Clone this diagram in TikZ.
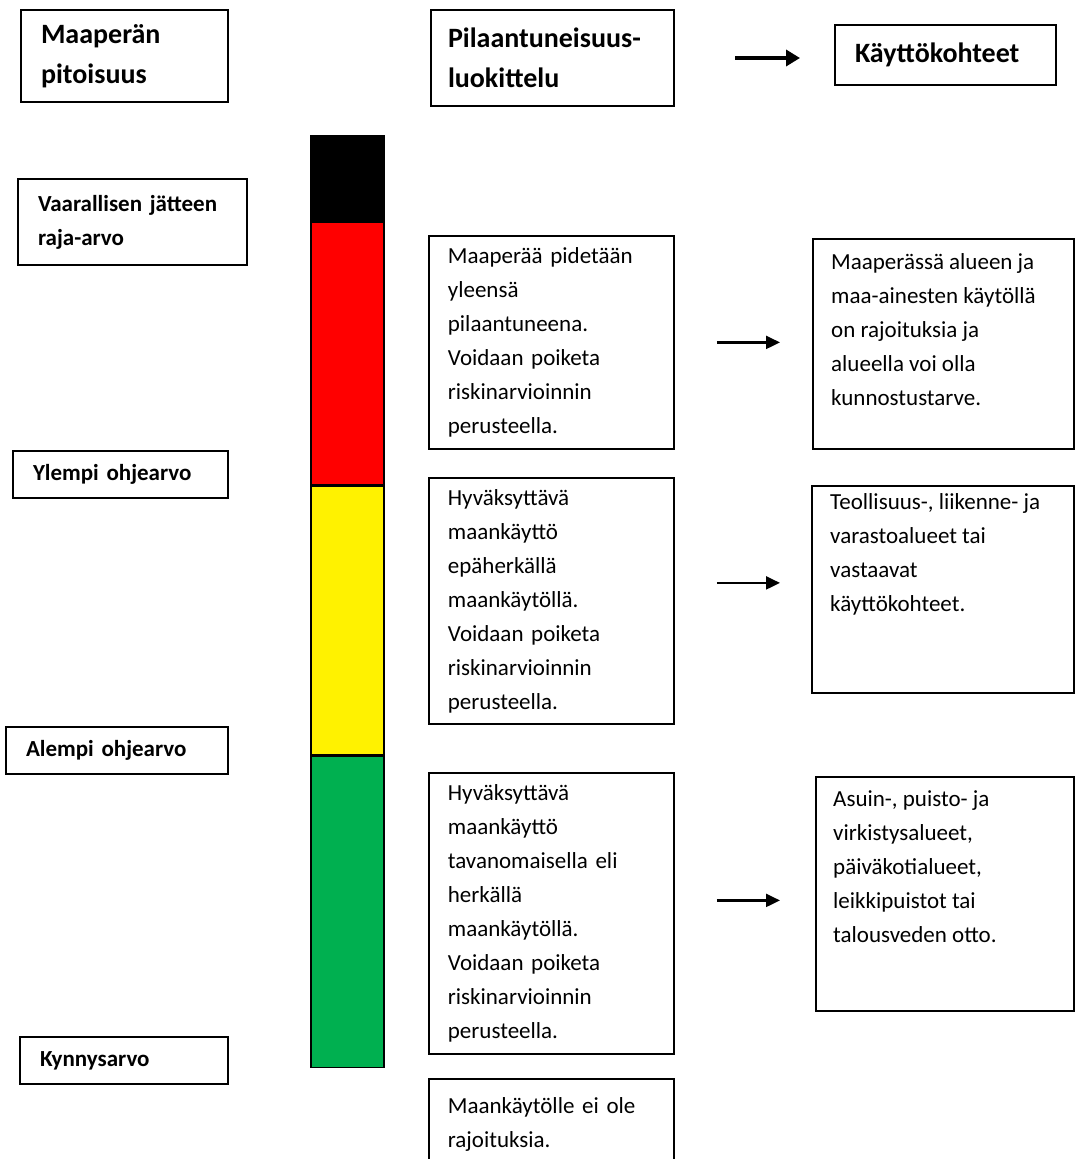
\documentclass[tikz,border=0pt]{standalone}
\usepackage{fontspec}
\setmainfont{Carlito}
\usetikzlibrary{positioning,arrows.meta}
\definecolor{ohgreen}{RGB}{0,176,80}

\begin{document}
\begin{tikzpicture}[x=1pt,y=-1pt,
headbox/.style={rectangle, draw, line width=2pt, align=left, inner xsep=20pt, inner ysep=0pt, font=\fontsize{28}{40}\selectfont\bfseries, anchor=north west},
levelbox/.style={rectangle, draw, line width=2pt, align=left, inner xsep=20pt, inner ysep=0pt, font=\fontsize{23}{34}\selectfont\bfseries, anchor=north west},
descbox/.style={rectangle, draw, line width=1.8pt, align=left, inner xsep=19pt, inner ysep=0pt, font=\fontsize{23}{34}\selectfont, anchor=north west},
desctext/.style={align=left, inner sep=0pt, font=\fontsize{23}{34}\selectfont, anchor=north west},
barseg/.style={rectangle, draw, line width=1.5pt, minimum width=73pt, inner sep=0pt},
usearrow/.style={-{Triangle[length=14pt,width=13pt]}, line width=2.2pt},
headarrow/.style={-{Triangle[length=14pt,width=16pt]}, line width=3.5pt},
]
\useasboundingbox (0,0) rectangle (1074,1159);

%Header
\node[headbox, text width=167pt, minimum height=92pt] (hpit) at (20,9) {Maaperän\\pitoisuus};
\node[headbox, text width=209pt, minimum height=96pt, inner xsep=17pt] (hluo) at (430,9) {Pilaantuneisuus-\\luokittelu};
\node[headbox, text width=181pt, minimum height=60pt] (hkay) at (834,24) {Käyttökohteet};

%Limit values
\node[levelbox, text width=189pt, minimum height=86pt] (lvaa) at (17,178) {Vaarallisen jätteen\\raja-arvo};
\node[levelbox, text width=175pt, minimum height=47pt] (lyle) at (12,450) {Ylempi ohjearvo};
\node[levelbox, text width=182pt, minimum height=47pt] (lale) at (5,726) {Alempi ohjearvo};
\node[levelbox, text width=168pt, minimum height=47pt] (lkyn) at (19,1036) {Kynnysarvo};

%Colour bar
\node[barseg, fill=black, minimum height=85pt, anchor=north west] (sblack) at (310,135) {};
\node[barseg, fill=red, minimum height=262pt, below=0pt of sblack] (sred) {};
\node[barseg, fill=yellow, minimum height=269pt, below=0pt of sred] (syel) {};
\node[barseg, fill=ohgreen, minimum height=311pt, below=0pt of syel] (sgrn) {};

%Classification
\node[descbox, text width=207pt, minimum height=213pt] (mred) at (428,235) {Maaperää pidetään\\yleensä\\pilaantuneena.\\Voidaan poiketa\\riskinarvioinnin\\perusteella.};
\node[descbox, text width=207pt, minimum height=246pt] (myel) at (428,477) {Hyväksyttävä\\maankäyttö\\epäherkällä\\maankäytöllä.\\Voidaan poiketa\\riskinarvioinnin\\perusteella.};
\node[descbox, text width=207pt, minimum height=281pt] (mgrn) at (428,772) {Hyväksyttävä\\maankäyttö\\tavanomaisella eli\\herkällä\\maankäytöllä.\\Voidaan poiketa\\riskinarvioinnin\\perusteella.};
\node[descbox, text width=207pt, minimum height=92pt] (mnone) at (428,1078) {Maankäytölle ei ole\\rajoituksia.};

%Uses
\node[descbox, minimum width=261pt, minimum height=210pt] (rred) at (812,238) {};
\node[desctext] (rredtxt) at ([shift={(19,15)}]rred.north west) {Maaperässä alueen ja\\maa-ainesten käytöllä\\on rajoituksia ja\\alueella voi olla\\kunnostustarve.};
\node[descbox, minimum width=262pt, minimum height=207pt] (ryel) at (811,485) {};
\node[desctext] (ryeltxt) at ([shift={(19,8)}]ryel.north west) {Teollisuus-, liikenne- ja\\varastoalueet tai\\vastaavat\\käyttökohteet.};
\node[descbox, minimum width=258pt, minimum height=234pt] (rgrn) at (815,776) {};
\node[desctext] (rgrntxt) at ([shift={(18,14)}]rgrn.north west) {Asuin-, puisto- ja\\virkistysalueet,\\päiväkotialueet,\\leikkipuistot tai\\talousveden otto.};

%Arrows
\draw[headarrow, shorten <=60pt, shorten >=34pt] (hluo.east) -- (hluo.east -| hkay.west);
\draw[usearrow, shorten <=42pt, shorten >=32pt] (mred.east) -- (mred.east -| rred.west);
\coordinate (ayel) at ([yshift=18pt]myel.east);
\draw[usearrow, shorten <=42pt, shorten >=31pt] (ayel) -- (ayel -| ryel.west);
\coordinate (agrn) at ([yshift=13pt]mgrn.east);
\draw[usearrow, shorten <=42pt, shorten >=35pt] (agrn) -- (agrn -| rgrn.west);

\end{tikzpicture}
\end{document}
